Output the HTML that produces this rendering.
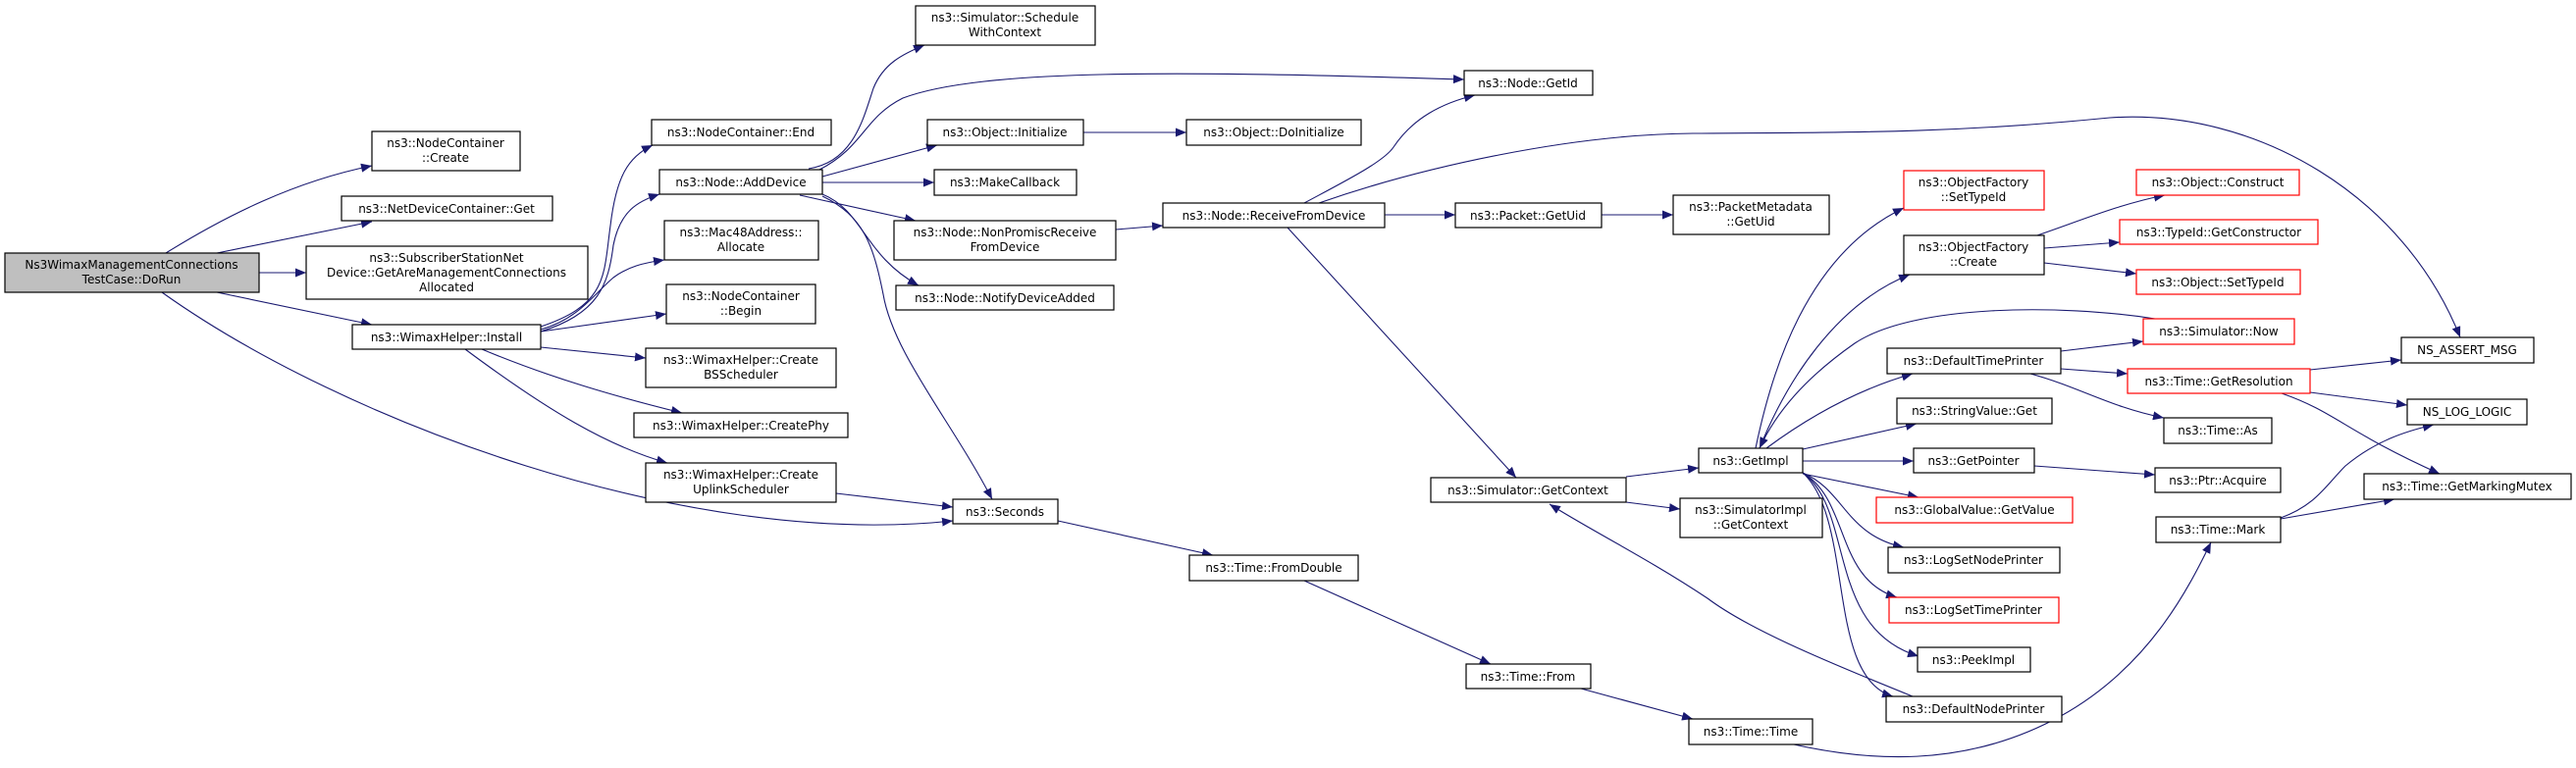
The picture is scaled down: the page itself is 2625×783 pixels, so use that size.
<!DOCTYPE html>
<html><head><meta charset="utf-8"><style>
html,body{margin:0;padding:0;background:#fff;}
svg{display:block;}
text{font-family:"DejaVu Sans","Liberation Sans",sans-serif;font-size:12px;fill:#000;text-anchor:middle;}
.n{fill:#fff;stroke:#000;stroke-width:1.2;}
.r{fill:#fff;stroke:#f00;stroke-width:1.2;}
.g{fill:#bfbfbf;stroke:#000;stroke-width:1.2;}
.e{fill:none;stroke:#191970;stroke-width:1.1;marker-end:url(#a);}
</style></head><body>
<svg width="2625" height="783" viewBox="0 0 2625 783" xmlns="http://www.w3.org/2000/svg">
<defs><marker id="a" markerUnits="userSpaceOnUse" markerWidth="12" markerHeight="10" refX="11" refY="4.5" orient="auto"><path d="M0,0 L11,4.5 L0,9 z" fill="#191970"/></marker></defs>

<!-- edges -->
<path class="e" d="M169,258 C230,220 300,185 379,169"/>
<path class="e" d="M221,258 L379,226"/>
<path class="e" d="M264,278 L312,278"/>
<path class="e" d="M221,298 L379,331"/>
<path class="e" d="M165,298 C350,430 700,560 971,531"/>
<path class="e" d="M551,333 C620,310 615,280 622,230 C628,180 640,160 665,148"/>
<path class="e" d="M551,338 C610,320 620,290 625,250 C632,215 650,205 672,198"/>
<path class="e" d="M551,336 C590,325 605,300 625,283 C640,272 655,268 677,265"/>
<path class="e" d="M551,338 L679,320"/>
<path class="e" d="M551,354 L658,365"/>
<path class="e" d="M491,356 C560,385 630,405 695,421"/>
<path class="e" d="M474,356 C560,420 620,455 680,472"/>
<path class="e" d="M852,503 L971,517"/>
<path class="e" d="M824,172 C870,165 880,120 890,90 C900,65 920,55 942,46"/>
<path class="e" d="M835,173 C880,150 880,120 920,100 C1000,70 1200,72 1492,81"/>
<path class="e" d="M838,180 L955,148"/>
<path class="e" d="M838,186 L952,186"/>
<path class="e" d="M815,199 L933,225"/>
<path class="e" d="M838,198 C880,215 880,260 936,291"/>
<path class="e" d="M838,200 C880,220 890,250 900,300 C910,360 970,430 1011,509"/>
<path class="e" d="M1078,531 L1236,566"/>
<path class="e" d="M1329,592 L1519,677"/>
<path class="e" d="M1611,702 L1725,733"/>
<path class="e" d="M1828,759 C1900,775 2000,785 2100,730 C2190,680 2230,600 2253,553"/>
<path class="e" d="M1137,234 L1185,230"/>
<path class="e" d="M1329,207 C1370,185 1410,165 1420,150 C1440,120 1470,105 1503,97"/>
<path class="e" d="M1344,207 C1450,170 1600,137 1725,136 C1900,135 2000,135 2150,120 C2300,110 2450,200 2507,344"/>
<path class="e" d="M1411,219 L1483,219"/>
<path class="e" d="M1312,232 L1545,487"/>
<path class="e" d="M1632,219 L1705,219"/>
<path class="e" d="M1657,486 L1731,477"/>
<path class="e" d="M1657,512 L1712,519"/>
<path class="e" d="M1949,710 C1850,670 1780,640 1740,610 C1680,570 1620,540 1579,514"/>
<path class="e" d="M1789,457 C1805,380 1840,260 1940,212"/>
<path class="e" d="M1793,457 C1820,390 1870,310 1946,280"/>
<path class="e" d="M2196,325 C2100,310 1950,310 1890,350 C1840,385 1810,420 1793,457"/>
<path class="e" d="M1800,457 C1850,420 1900,395 1949,381"/>
<path class="e" d="M1837,458 L1953,432"/>
<path class="e" d="M1837,470 L1950,470"/>
<path class="e" d="M1837,483 L1955,507"/>
<path class="e" d="M1837,482 C1880,500 1880,545 1940,558"/>
<path class="e" d="M1837,482 C1885,510 1870,590 1933,609"/>
<path class="e" d="M1837,482 C1890,520 1860,640 1955,669"/>
<path class="e" d="M1837,482 C1890,530 1860,690 1929,710"/>
<path class="e" d="M2076,240 C2120,225 2160,208 2206,199"/>
<path class="e" d="M2083,253 L2160,247"/>
<path class="e" d="M2083,268 L2177,279"/>
<path class="e" d="M2100,358 L2184,348"/>
<path class="e" d="M2100,376 L2168,381"/>
<path class="e" d="M2069,381 C2120,395 2150,415 2205,426"/>
<path class="e" d="M2354,377 L2447,367"/>
<path class="e" d="M2354,400 L2453,413"/>
<path class="e" d="M2325,401 C2380,420 2390,440 2486,483"/>
<path class="e" d="M2073,475 L2196,484"/>
<path class="e" d="M2324,528 C2360,515 2370,495 2390,475 C2420,450 2450,440 2480,433"/>
<path class="e" d="M2324,529 L2440,509"/>
<path class="e" d="M1104,135 L1209,135"/>

<!-- nodes -->
<rect class="g" x="5" y="258" width="259" height="40"/><text x="134" y="274">Ns3WimaxManagementConnections</text><text x="134" y="289">TestCase::DoRun</text>
<rect class="n" x="379" y="134" width="151" height="40"/><text x="454" y="150">ns3::NodeContainer</text><text x="454" y="165">::Create</text>
<rect class="n" x="348" y="200" width="215" height="25"/><text x="455" y="217">ns3::NetDeviceContainer::Get</text>
<rect class="n" x="312" y="251" width="287" height="54"/><text x="455" y="267">ns3::SubscriberStationNet</text><text x="455" y="282">Device::GetAreManagementConnections</text><text x="455" y="297">Allocated</text>
<rect class="n" x="359" y="331" width="192" height="25"/><text x="455" y="348">ns3::WimaxHelper::Install</text>
<rect class="n" x="664" y="122" width="183" height="26"/><text x="755" y="139">ns3::NodeContainer::End</text>
<rect class="n" x="672" y="173" width="166" height="25"/><text x="755" y="190">ns3::Node::AddDevice</text>
<rect class="n" x="677" y="225" width="157" height="40"/><text x="755" y="241">ns3::Mac48Address::</text><text x="755" y="256">Allocate</text>
<rect class="n" x="679" y="290" width="152" height="40"/><text x="755" y="306">ns3::NodeContainer</text><text x="755" y="321">::Begin</text>
<rect class="n" x="658" y="355" width="194" height="40"/><text x="755" y="371">ns3::WimaxHelper::Create</text><text x="755" y="386">BSScheduler</text>
<rect class="n" x="646" y="421" width="218" height="25"/><text x="755" y="438">ns3::WimaxHelper::CreatePhy</text>
<rect class="n" x="658" y="472" width="194" height="40"/><text x="755" y="488">ns3::WimaxHelper::Create</text><text x="755" y="503">UplinkScheduler</text>
<rect class="n" x="933" y="6" width="183" height="40"/><text x="1024" y="22">ns3::Simulator::Schedule</text><text x="1024" y="37">WithContext</text>
<rect class="n" x="1492" y="72" width="131" height="25"/><text x="1557" y="89">ns3::Node::GetId</text>
<rect class="n" x="945" y="122" width="159" height="26"/><text x="1024" y="139">ns3::Object::Initialize</text>
<rect class="n" x="1209" y="122" width="178" height="26"/><text x="1298" y="139">ns3::Object::DoInitialize</text>
<rect class="n" x="952" y="173" width="145" height="26"/><text x="1024" y="190">ns3::MakeCallback</text>
<rect class="n" x="911" y="225" width="226" height="40"/><text x="1024" y="241">ns3::Node::NonPromiscReceive</text><text x="1024" y="256">FromDevice</text>
<rect class="n" x="913" y="291" width="222" height="25"/><text x="1024" y="308">ns3::Node::NotifyDeviceAdded</text>
<rect class="n" x="1185" y="207" width="226" height="25"/><text x="1298" y="224">ns3::Node::ReceiveFromDevice</text>
<rect class="n" x="1483" y="207" width="149" height="25"/><text x="1557" y="224">ns3::Packet::GetUid</text>
<rect class="n" x="1705" y="199" width="159" height="40"/><text x="1784" y="215">ns3::PacketMetadata</text><text x="1784" y="230">::GetUid</text>
<rect class="n" x="971" y="509" width="107" height="25"/><text x="1024" y="526">ns3::Seconds</text>
<rect class="n" x="1212" y="566" width="172" height="26"/><text x="1298" y="583">ns3::Time::FromDouble</text>
<rect class="n" x="1494" y="677" width="127" height="25"/><text x="1557" y="694">ns3::Time::From</text>
<rect class="n" x="1458" y="487" width="199" height="25"/><text x="1557" y="504">ns3::Simulator::GetContext</text>
<rect class="n" x="1721" y="733" width="126" height="26"/><text x="1784" y="750">ns3::Time::Time</text>
<rect class="n" x="1712" y="508" width="145" height="40"/><text x="1784" y="524">ns3::SimulatorImpl</text><text x="1784" y="539">::GetContext</text>
<rect class="n" x="1731" y="457" width="106" height="25"/><text x="1784" y="474">ns3::GetImpl</text>
<rect class="r" x="1940" y="174" width="143" height="40"/><text x="2011" y="190">ns3::ObjectFactory</text><text x="2011" y="205">::SetTypeId</text>
<rect class="n" x="1940" y="240" width="143" height="40"/><text x="2011" y="256">ns3::ObjectFactory</text><text x="2011" y="271">::Create</text>
<rect class="r" x="2177" y="173" width="166" height="26"/><text x="2260" y="190">ns3::Object::Construct</text>
<rect class="r" x="2160" y="224" width="202" height="25"/><text x="2261" y="241">ns3::TypeId::GetConstructor</text>
<rect class="r" x="2177" y="275" width="167" height="25"/><text x="2260" y="292">ns3::Object::SetTypeId</text>
<rect class="r" x="2184" y="325" width="154" height="26"/><text x="2261" y="342">ns3::Simulator::Now</text>
<rect class="n" x="1923" y="355" width="177" height="26"/><text x="2011" y="372">ns3::DefaultTimePrinter</text>
<rect class="r" x="2168" y="376" width="186" height="25"/><text x="2261" y="393">ns3::Time::GetResolution</text>
<rect class="n" x="2447" y="344" width="135" height="26"/><text x="2514" y="361">NS_ASSERT_MSG</text>
<rect class="n" x="2453" y="407" width="122" height="26"/><text x="2514" y="424">NS_LOG_LOGIC</text>
<rect class="n" x="2205" y="426" width="110" height="26"/><text x="2260" y="443">ns3::Time::As</text>
<rect class="n" x="1933" y="406" width="158" height="26"/><text x="2012" y="423">ns3::StringValue::Get</text>
<rect class="n" x="1950" y="457" width="123" height="25"/><text x="2011" y="474">ns3::GetPointer</text>
<rect class="n" x="2196" y="477" width="128" height="25"/><text x="2260" y="494">ns3::Ptr::Acquire</text>
<rect class="n" x="2409" y="483" width="211" height="26"/><text x="2514" y="500">ns3::Time::GetMarkingMutex</text>
<rect class="r" x="1912" y="507" width="200" height="26"/><text x="2012" y="524">ns3::GlobalValue::GetValue</text>
<rect class="n" x="2197" y="527" width="127" height="26"/><text x="2260" y="544">ns3::Time::Mark</text>
<rect class="n" x="1924" y="558" width="175" height="26"/><text x="2011" y="575">ns3::LogSetNodePrinter</text>
<rect class="r" x="1925" y="609" width="173" height="26"/><text x="2011" y="626">ns3::LogSetTimePrinter</text>
<rect class="n" x="1954" y="660" width="115" height="25"/><text x="2011" y="677">ns3::PeekImpl</text>
<rect class="n" x="1922" y="710" width="179" height="26"/><text x="2011" y="727">ns3::DefaultNodePrinter</text>
</svg>
</body></html>
